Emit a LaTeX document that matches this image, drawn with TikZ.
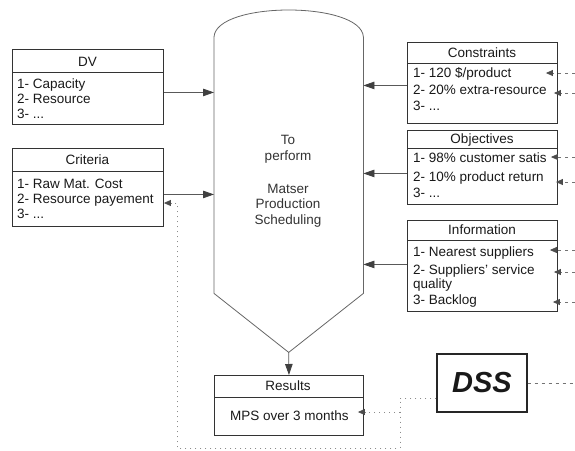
\documentclass[tikz,border=0pt]{standalone}
\usepackage{fontspec}
\setmainfont{Liberation Sans}
\usetikzlibrary{arrows.meta,calc}
\begin{document}
\begin{tikzpicture}[x=1pt,y=-1pt,
  every node/.style={font=\fontsize{13.5}{15.5}\selectfont, text=black!90, inner sep=0pt},
  box/.style={draw=black!80, line width=0.9pt, rectangle, anchor=north west},
  rowtext/.style={anchor=base west},
  headtext/.style={anchor=base},
  sepline/.style={draw=black!80, line width=0.9pt},
  shapeline/.style={draw=black!60, line width=0.8pt},
  arr/.style={draw=black!65, line width=0.8pt, -{Triangle[length=11pt,width=7.5pt,color=black!75]}},
  dashin/.style={draw=black!55, line width=0.7pt, dash pattern=on 3pt off 4pt, -{Triangle[length=7pt,width=6pt,color=black!70]}},
  dotlink/.style={draw=black!45, line width=0.8pt, dash pattern=on 1pt off 4pt},
  dottip/.style={-{Triangle[length=7pt,width=6pt,color=black!70]}},
]
\useasboundingbox (0,0) rectangle (575,450);

% ---------- central process shape ----------
\node[minimum width=149pt, minimum height=256pt, anchor=north west] (ctr) at (214,37) {};
\coordinate (tip) at ($(ctr.south)+(0,59)$);
\draw[shapeline] (ctr.south west) -- (ctr.north west)
  .. controls ($(ctr.north west)+(2,-36)$) and ($(ctr.north east)+(-2,-36)$) .. (ctr.north east)
  -- (ctr.south east) -- (tip) -- cycle;
\node[anchor=base, text=black!80] (ct1) at (288,144) {To};
\node[anchor=base, text=black!80] (ct2) at (288,160) {perform};
\node[anchor=base, text=black!80] (ct3) at (288,193) {Matser};
\node[anchor=base, text=black!80] (ct4) at (288,208.5) {Production};
\node[anchor=base, text=black!80] (ct5) at (288,224) {Scheduling};

% ---------- DV ----------
\node[box, minimum width=151pt, minimum height=75pt] (dv) at (12,49) {};
\node[headtext] (dvh) at (87.5,66) {DV};
\draw[sepline] (dv.west |- 0,72) -- (dv.east |- 0,72);
\node[rowtext] (dv1) at (17,88) {1- Capacity};
\node[rowtext] (dv2) at (17,103) {2- Resource};
\node[rowtext] (dv3) at (17,118.5) {3- ...};

% ---------- Criteria ----------
\node[box, minimum width=151pt, minimum height=78pt] (cri) at (12,148) {};
\node[headtext] (crih) at (87.5,164) {Criteria};
\draw[sepline] (cri.west |- 0,171) -- (cri.east |- 0,171);
\node[rowtext] (cri1) at (17,188) {1- Raw Mat. Cost};
\node[rowtext] (cri2) at (17,203) {2- Resource payement};
\node[rowtext] (cri3) at (17,218.5) {3- ...};

% ---------- Constraints ----------
\node[box, minimum width=150pt, minimum height=81pt] (con) at (407,42) {};
\node[headtext] (conh) at (482,57) {Constraints};
\draw[sepline] (con.west |- 0,63) -- (con.east |- 0,63);
\node[rowtext] (con1) at (413,77) {1- 120 \$/product};
\node[rowtext] (con2) at (413,94) {2- 20\% extra-resource};
\node[rowtext] (con3) at (413,110) {3- ...};

% ---------- Objectives ----------
\node[box, minimum width=150pt, minimum height=74pt] (obj) at (407,130) {};
\node[headtext] (objh) at (482,143) {Objectives};
\draw[sepline] (obj.west |- 0,148) -- (obj.east |- 0,148);
\node[rowtext] (obj1) at (413,162) {1- 98\% customer satis};
\node[rowtext] (obj2) at (413,181) {2- 10\% product return};
\node[rowtext] (obj3) at (413,197) {3- ...};

% ---------- Information ----------
\node[box, minimum width=150pt, minimum height=91pt] (inf) at (407,220) {};
\node[headtext] (infh) at (482,234) {Information};
\draw[sepline] (inf.west |- 0,240) -- (inf.east |- 0,240);
\node[rowtext] (inf1) at (413,256) {1- Nearest suppliers};
\node[rowtext] (inf2) at (413,274) {2- Suppliers' service};
\node[rowtext] (inf2b) at (413,288) {quality};
\node[rowtext] (inf3) at (413,304) {3- Backlog};

% ---------- Results ----------
\node[box, minimum width=149pt, minimum height=60pt] (res) at (214,375) {};
\node[headtext] (resh) at (288,390) {Results};
\draw[sepline] (res.west |- 0,397) -- (res.east |- 0,397);
\node[rowtext] (res1) at (230,420) {MPS over 3 months};

% ---------- DSS ----------
\node[draw=black!85, line width=1.3pt, minimum width=90pt, minimum height=58pt,
      font=\fontsize{29}{30}\selectfont\bfseries\itshape] (dss) at (482,383) {DSS};

% ---------- inputs into the process ----------
\draw[arr] ([yshift=-5.5pt]dv.east) -- ([yshift=-5.5pt]dv.east -| ctr.west);
\draw[arr] ([yshift=-7pt]cri.east) -- ([yshift=-7pt]cri.east -| ctr.west);
\draw[arr] ([yshift=-2.5pt]con.west) -- ([yshift=-2.5pt]con.west -| ctr.east);
\draw[arr] ([yshift=-6pt]obj.west) -- ([yshift=-6pt]obj.west -| ctr.east);
\draw[arr] ([yshift=1.5pt]inf.west) -- ([yshift=1.5pt]inf.west -| ctr.east);
\draw[arr] (tip) -- (res.north);

% ---------- external feeds from the right ----------
\coordinate (e1) at (575,73);
\coordinate (e2) at (575,93);
\coordinate (e3) at (575,157);
\coordinate (e4) at (575,182);
\coordinate (e5) at (575,250);
\coordinate (e6) at (575,272);
\coordinate (e7) at (575,302);
\coordinate (e8) at (575,383);
\draw[dashin] (e1) -- ($(e1 -| con.east)+(-12,0)$);
\draw[dashin] (e2) -- ($(e2 -| con.east)+(-4,0)$);
\draw[dashin] (e3) -- ($(e3 -| obj.east)+(-7,0)$);
\draw[dashin] (e4) -- ($(e4 -| obj.east)+(-2,0)$);
\draw[dashin] (e5) -- ($(e5 -| inf.east)+(-8,0)$);
\draw[dashin] (e6) -- ($(e6 -| inf.east)+(-4,0)$);
\draw[dashin] (e7) -- ($(e7 -| inf.east)+(-5,0)$);
\draw[draw=black!55, line width=0.7pt, dash pattern=on 3pt off 4pt] (dss.east) -- (e8);

% ---------- DSS feedback loops ----------
\coordinate (b1) at (400,398);
\coordinate (b2) at (400,448);
\coordinate (b3) at (177,448);
\coordinate (b4) at (177,203);
\coordinate (bm) at (400,412);
\draw[dotlink, dottip] (dss.west |- b1) -- (b1) -- (b2) -- (b3) -- (b4) -- (b4 -| cri.east);
\draw[dotlink, dottip] (bm) -- ($(bm -| res.east)+(-6,0)$);
\end{tikzpicture}
\end{document}
